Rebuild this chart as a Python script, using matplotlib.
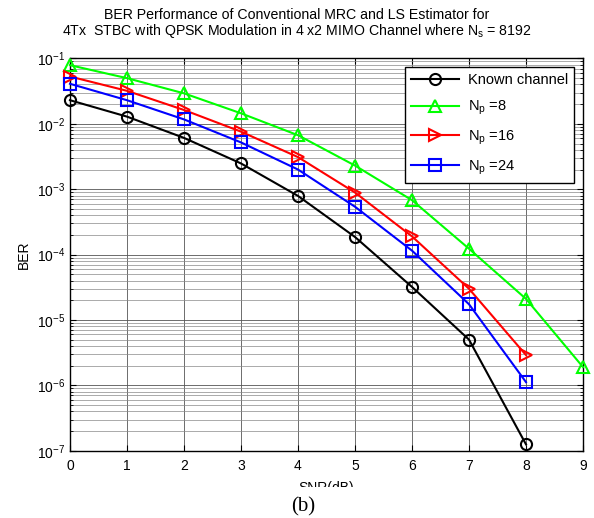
"""
plot.py  --  BER vs SNR for MRC with known channel and LS estimation (4x2 STBC)
"""

import numpy as np
import matplotlib
matplotlib.use("Agg")
import matplotlib.pyplot as plt
from matplotlib.patches import Rectangle
from matplotlib.ticker import LogLocator, NullFormatter


# ------------------------------------------------------------------
# Data
# ------------------------------------------------------------------
snr_known = [0, 1, 2, 3, 4, 5, 6, 7, 8]
ber_known = [2.3e-2, 1.29e-2, 6.1e-3, 2.48e-3, 7.9e-4, 1.86e-4, 3.2e-5, 5.0e-6, 1.25e-7]

snr_np8 = [0, 1, 2, 3, 4, 5, 6, 7, 8, 9]
ber_np8 = [7.9e-2, 5.0e-2, 2.93e-2, 1.45e-2, 6.7e-3, 2.3e-3, 6.8e-4, 1.23e-4, 2.1e-5, 1.9e-6]

snr_np16 = [0, 1, 2, 3, 4, 5, 6, 7, 8]
ber_np16 = [5.3e-2, 3.2e-2, 1.63e-2, 7.6e-3, 3.1e-3, 8.9e-4, 1.9e-4, 3.0e-5, 2.9e-6]

snr_np24 = [0, 1, 2, 3, 4, 5, 6, 7, 8]
ber_np24 = [4.1e-2, 2.3e-2, 1.17e-2, 5.2e-3, 2.0e-3, 5.4e-4, 1.15e-4, 1.74e-5, 1.12e-6]

labels = ["Known channel", r"N$_\mathregular{p}$ =8",
          r"N$_\mathregular{p}$ =16", r"N$_\mathregular{p}$ =24"]
x_ticks = list(range(10))


# ------------------------------------------------------------------
# Style
# ------------------------------------------------------------------
plt.rcParams["font.family"] = ["Liberation Sans", "DejaVu Sans"]
plt.rcParams["mathtext.default"] = "regular"
plt.rcParams["font.size"] = 10


def main():
    fig = plt.figure(figsize=(5.94, 5.18), dpi=100)
    ax = fig.add_axes([0.1178, 0.1299, 0.8637, 0.7572])

    series = [
        (snr_known, ber_known, "black", "o"),
        (snr_np8, ber_np8, "#00ff00", "^"),
        (snr_np16, ber_np16, "red", ">"),
        (snr_np24, ber_np24, "blue", "s"),
    ]
    for (x, y, color, marker), label in zip(series, labels):
        ax.semilogy(x, y, color=color, marker=marker, markersize=8,
                    markerfacecolor="none", markeredgewidth=1.5,
                    linewidth=1.5, label=label, clip_on=False, zorder=3)

    ax.set_xlim(0, 9)
    ax.set_ylim(1e-7, 1e-1)
    ax.set_xticks(x_ticks)
    ax.yaxis.set_major_locator(LogLocator(base=10, numticks=10))
    ax.yaxis.set_minor_locator(LogLocator(base=10, subs=np.arange(2, 10),
                                          numticks=100))
    ax.yaxis.set_minor_formatter(NullFormatter())

    ax.grid(True, which="major", color="#555555", linewidth=0.6)
    ax.grid(True, which="minor", axis="y", color="#888888", linewidth=0.5)
    ax.tick_params(which="both", direction="in", top=True, right=True,
                   labelsize=10)
    ax.tick_params(which="major", length=4)
    ax.tick_params(which="minor", length=2)
    ax.tick_params(axis="x", pad=6)
    for sp in ax.spines.values():
        sp.set_linewidth(1.0)

    ax.set_ylabel("BER", fontsize=10, labelpad=4)
    ax.set_xlabel("SNR(dB)", fontsize=10, labelpad=6)
    ax.set_title("BER Performance of Conventional MRC and LS Estimator for\n"
                 "4Tx  STBC with QPSK Modulation in 4 x2 MIMO Channel "
                 r"where N$_\mathregular{s}$ = 8192",
                 fontsize=10.2, pad=17, linespacing=1.0, x=0.442)

    leg = ax.legend(loc="upper right", fontsize=10.5, fancybox=False,
                    framealpha=1, edgecolor="black", borderaxespad=0.6,
                    handlelength=3.3, handletextpad=0.6, labelspacing=0.8)
    leg.get_frame().set_linewidth(1.0)

    # caption covers the lower half of the x label, as in the source figure
    fig.patches.append(Rectangle((0, 0), 1, 31 / 518, transform=fig.transFigure,
                                 facecolor="white", edgecolor="none",
                                 zorder=10))
    fig.text(0.51, 0.022, "(b)", ha="center", va="center", fontsize=15,
             family=["Liberation Serif", "DejaVu Serif"], zorder=11)

    fig.savefig("out.png", dpi=100)


if __name__ == "__main__":
    main()
